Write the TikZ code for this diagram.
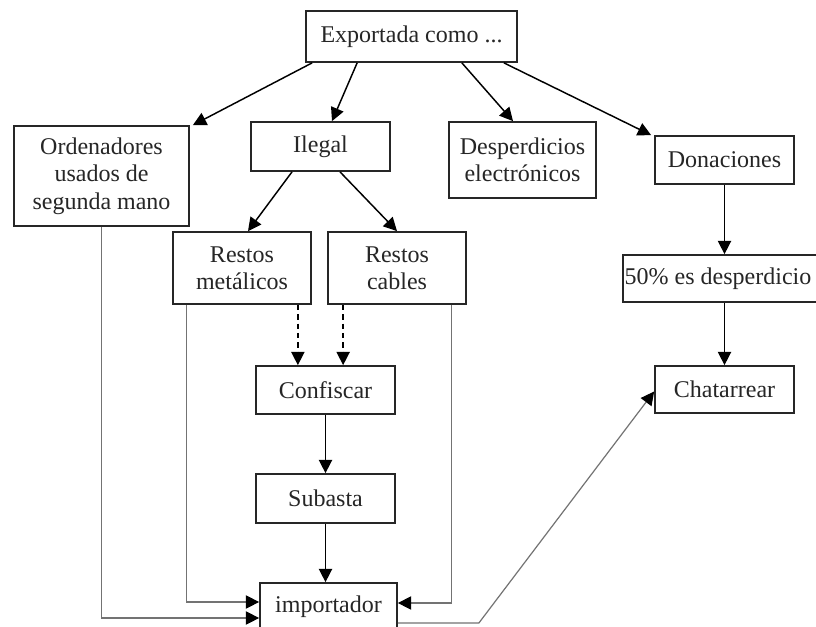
\documentclass[tikz,border=0pt]{standalone}
\usepackage{fontspec}
\setmainfont{Liberation Serif}
\usetikzlibrary{arrows.meta,calc}
\tikzset{
  box/.style={draw=black!85, line width=1.3pt, fill=white, align=center, inner sep=0pt,
    text=black!85, font=\fontsize{18}{20.6}\selectfont},
  arr/.style={line width=1.1pt, draw=black, -{Triangle[length=10pt,width=10pt]}},
  darr/.style={arr, dash pattern=on 4pt off 3pt},
  greyarr/.style={line width=0.9pt, draw=black!55, -{Triangle[length=10pt,width=10pt,color=black]}},
}
\begin{document}
\begin{tikzpicture}[x=0.75pt,y=-0.75pt]
\useasboundingbox (0,0) rectangle (816,627);
\clip (0,0) rectangle (816,627);
\fill[white] (0,0) rectangle (816,627);
% nodes
\node[box, minimum width=158.25pt, minimum height=38.25pt] (exp) at (411.5,36.5) {Exportada como ...};
\node[box, minimum width=131.25pt, minimum height=75pt] (ord) at (101.5,176) {Ordenadores\\usados de\\segunda mano};
\node[box, minimum width=104.25pt, minimum height=36.75pt] (ile) at (320.5,146.5) {Ilegal};
\node[box, minimum width=103.5pt, minimum height=54pt] (rm) at (242,268) {Restos\\metálicos};
\node[box, minimum width=103.5pt, minimum height=54pt] (rc) at (397,268) {Restos\\cables};
\node[box, minimum width=110.25pt, minimum height=57pt] (des) at (522.5,160) {Desperdicios\\electrónicos};
\node[box, minimum width=104.25pt, minimum height=36pt] (don) at (724.5,160) {Donaciones};
\node[box, minimum width=153pt, minimum height=35.25pt] (p50) at (725,278.5) {50\% es desperdicio\hspace*{10.5pt}};
\node[box, minimum width=104.25pt, minimum height=35.25pt] (cha) at (724.5,389.5) {Chatarrear};
\node[box, minimum width=104.25pt, minimum height=36pt] (con) at (325.5,390) {Confiscar};
\node[box, minimum width=104.25pt, minimum height=36.75pt] (sub) at (325.5,498.5) {Subasta};
\node[box, minimum width=102.75pt, minimum height=36pt] (imp) at (328.5,607) {importador};
% connectors
\draw[arr] ($(exp.south west)+(7,0)$) -- ($(ord.north east)+(3,0)$);
\draw[arr] ($(exp.south west)+(52,0)$) -- ($(ile.north)+(11.5,0)$);
\draw[arr] ($(exp.south east)+(-56,0)$) -- ($(des.north)+(-9.5,0)$);
\draw[arr] ($(exp.south east)+(-14,0)$) -- ($(don.north west)+(-3,0)$);
\draw[arr] ($(ile.south)+(-28.5,0)$) -- ($(rm.north)+(6,0)$);
\draw[arr] ($(ile.south)+(19.5,0)$) -- (rc.north);
\draw[arr] (don.south) -- (don.south |- p50.north);
\draw[arr] (cha.north |- p50.south) -- (cha.north);
\draw[darr] ($(rm.south east)+(-14,0)$) coordinate (d1) -- (d1 |- con.north);
\draw[darr] ($(rc.south west)+(16,0)$) coordinate (d2) -- (d2 |- con.north);
\draw[arr] (con.south) -- (sub.north);
\draw[arr] (sub.south) -- (sub.south |- imp.north);
\draw[greyarr] ($(rm.south west)+(14,0)$) |- ($(imp.west)+(0,-5)$);
\draw[greyarr] (ord.south) |- ($(imp.west)+(0,11)$);
\draw[greyarr] ($(rc.south east)+(-15,0)$) |- ($(imp.east)+(0,-4)$);
\draw[greyarr] ($(imp.east)+(0,16)$) -- ++(81,0) coordinate (k) -- ($(cha.west)+(0,2)$);
\end{tikzpicture}
\end{document}
